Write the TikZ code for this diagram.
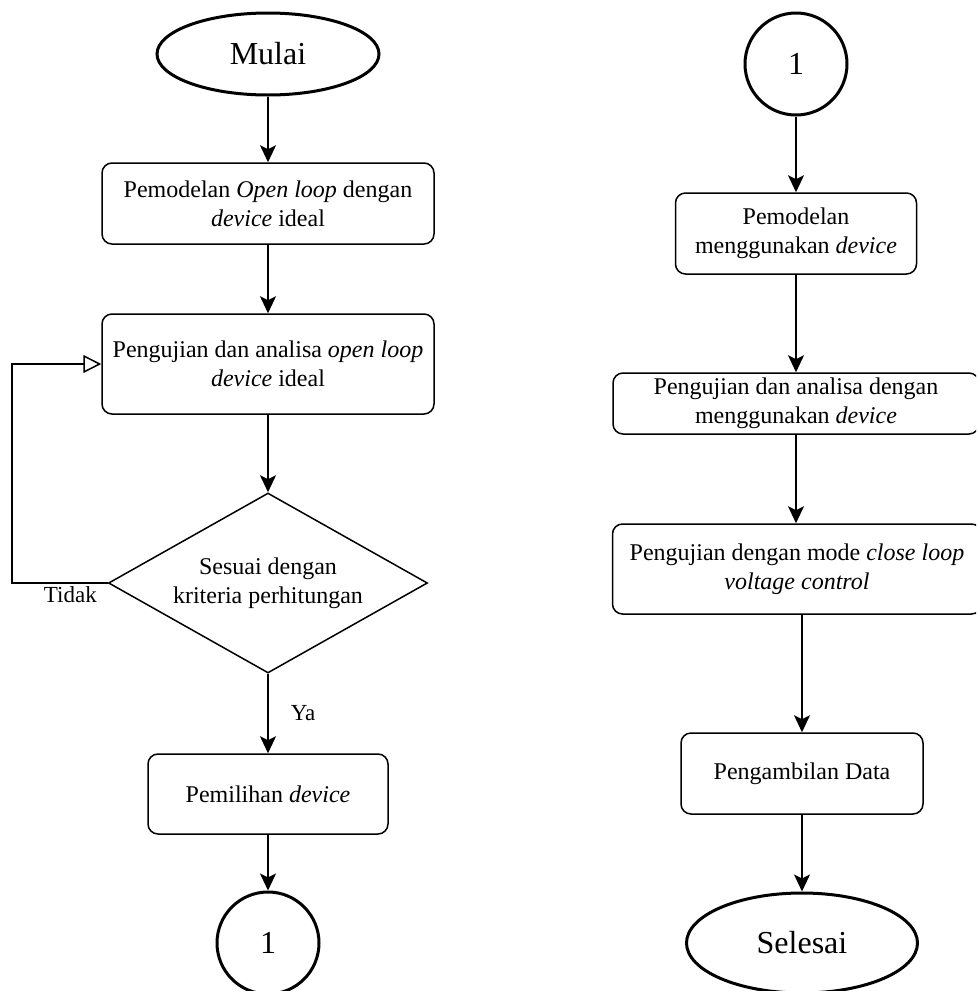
\documentclass[tikz,border=0pt]{standalone}
\usepackage{fontspec}
\setmainfont{Liberation Serif}
\usetikzlibrary{shapes.geometric, arrows.meta}

\begin{document}
\begin{tikzpicture}[x=0.5pt, y=-0.5pt,
  every node/.style={font=\fontsize{12}{14.5}\selectfont, align=center, inner sep=0pt},
  proc/.style={draw, rounded corners=5pt, line width=0.75pt},
  term/.style={draw, ellipse, line width=1.5pt, font=\fontsize{16}{19}\selectfont},
  conn/.style={draw, circle, line width=1.5pt, minimum size=51pt, font=\fontsize{16}{19}\selectfont},
  decide/.style={draw, diamond, shape aspect=1.77, line width=0.75pt},
  flow/.style={line width=0.8pt, -{Stealth[length=8.5pt,width=8pt,inset=2pt]}},
  back/.style={line width=0.75pt, -{Triangle[open,length=9pt,width=9pt]}},
  lbl/.style={font=\fontsize{11.5}{13}\selectfont}
]
\clip (0,0) rectangle (976,991);

% left column
\node[term, minimum width=111pt, minimum height=41pt] (start) at (268,54) {Mulai};
\node[proc, minimum width=166pt, minimum height=40.5pt] (b1) at (268,203.5)
  {Pemodelan \textit{Open loop} dengan\\\textit{device} ideal};
\node[proc, minimum width=166pt, minimum height=50pt] (b2) at (268,364)
  {Pengujian dan analisa \textit{open loop}\\\textit{device} ideal};
\node[decide, minimum width=159.5pt, minimum height=90pt] (dec) at (268,583)
  {Sesuai dengan\\kriteria perhitungan};
\node[proc, minimum width=120pt, minimum height=40pt] (b3) at (268,794)
  {Pemilihan \textit{device}};
\node[conn] (c1) at (268,943) {1};
\coordinate (lp) at (12,583);

% right column
\node[conn] (c2) at (796,64) {1};
\node[proc, minimum width=120.5pt, minimum height=40.5pt] (r1) at (796,233.5)
  {Pemodelan\\menggunakan \textit{device}};
\node[proc, minimum width=183pt, minimum height=30.5pt] (r2) at (796,403.5)
  {Pengujian dan analisa dengan\\menggunakan \textit{device}};
\node[proc, minimum width=184.5pt, minimum height=45pt] (r3) at (797,569)
  {Pengujian dengan mode \textit{close loop}\\\textit{voltage control}};
\node[proc, minimum width=121pt, minimum height=40.5pt] (r4) at (802,773.5)
  {Pengambilan Data};
\node[term, minimum width=115.5pt, minimum height=50pt] (end) at (802,943) {Selesai};

% connectors
\draw[flow] (start) -- (b1);
\draw[flow] (b1) -- (b2);
\draw[flow] (b2) -- (dec);
\draw[flow] (dec) -- node[lbl, right, inner sep=3pt, xshift=8pt] {Ya} (b3);
\draw[flow] (b3) -- (c1);
\draw[back] (dec.west) -- node[lbl, below, pos=0.39, inner sep=1.5pt] {Tidak} (lp) |- (b2.west);

\draw[flow] (c2) -- (r1);
\draw[flow] (r1) -- (r2);
\draw[flow] (r2.south) -- (r2.south |- r3.north);
\draw[flow] (r3.south -| r4.north) -- (r4.north);
\draw[flow] (r4) -- (end);
\end{tikzpicture}
\end{document}
